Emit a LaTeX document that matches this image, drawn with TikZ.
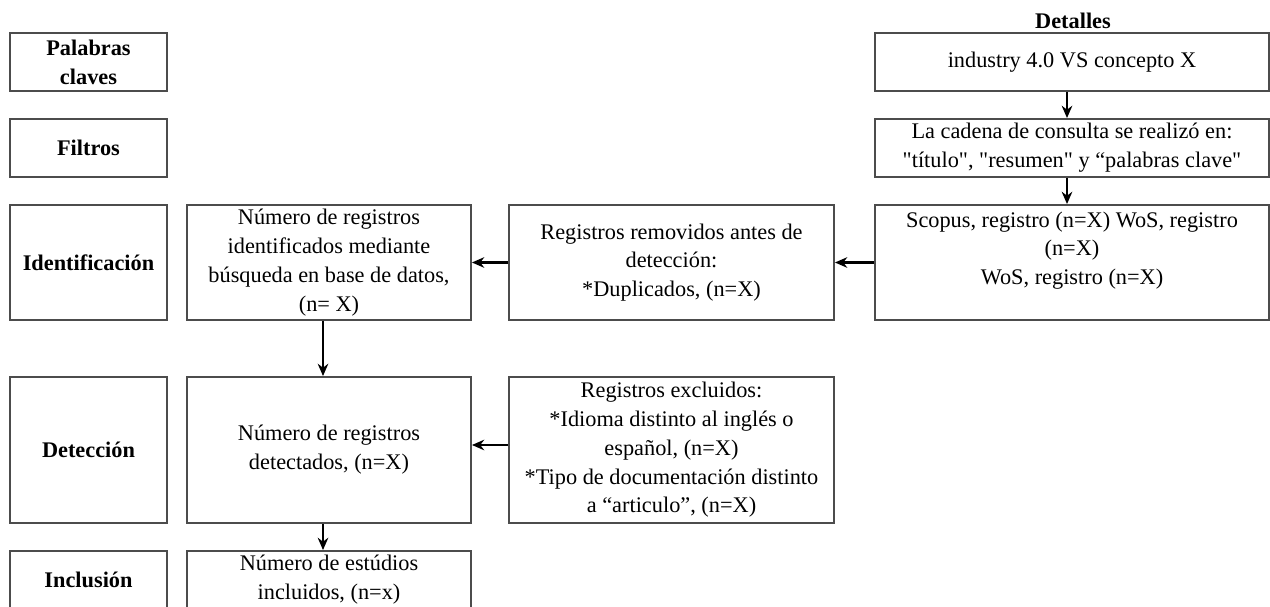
\documentclass[tikz,border=0pt]{standalone}
\usepackage{fontspec}
\setmainfont{Liberation Serif}[Ligatures=TeXOff]
\usetikzlibrary{arrows.meta}
\begin{document}
\begin{tikzpicture}
[x=0.02cm,y=-0.02cm,%
  box/.style={shape=rectangle,draw=black!70,line width=1.1pt,align=center,inner sep=1pt,font=\fontsize{12.7}{16.4}\selectfont},%
  tag/.style={box,font=\fontsize{12.7}{16.4}\selectfont\bfseries,minimum width=3.14cm},%
  arr/.style={-{Stealth[length=7pt,width=6pt]},line width=1.5pt}]
\clip (0,0) rectangle (1270,607);
\node[tag,minimum height=1.16cm] (pal) at (88.5,62) {Palabras\\claves};
\node[tag,minimum height=1.16cm] (fil) at (88.5,148) {Filtros};
\node[tag,minimum height=2.3cm] (ide) at (88.5,262.5) {Identificación};
\node[tag,minimum height=2.92cm] (det) at (88.5,450) {Detección};
\node[tag,minimum height=1.16cm] (inc) at (88.5,580) {Inclusión};
\node[box,minimum width=5.68cm,minimum height=2.3cm] (num1) at (329,262.5)
  {Número de registros\\identificados mediante\\búsqueda en base de datos,\\(n= X)};
\node[box,minimum width=5.68cm,minimum height=2.92cm] (num2) at (329,450)
  {Número de registros\\detectados, (n=X)};
\node[box,minimum width=5.68cm,minimum height=1.16cm] (num3) at (329,580)
  {Número de estúdios\\incluidos, (n=x)};
\node[box,minimum width=6.5cm,minimum height=2.3cm] (rem) at (671.5,262.5)
  {Registros removidos antes de\\detección:\\*Duplicados, (n=X)};
\node[box,minimum width=6.5cm,minimum height=2.92cm] (exc) at (671.5,450)
  {Registros excluidos:\\*Idioma distinto al inglés o\\español, (n=X)\\*Tipo de documentación distinto\\a “articulo”, (n=X)};
\node[font=\fontsize{12.7}{16.4}\selectfont\bfseries] (det0) at (1073,21) {Detalles};
\node[box,minimum width=7.88cm,minimum height=1.16cm] (ind) at (1072,62)
  {industry 4.0 VS concepto X};
\node[box,minimum width=7.88cm,minimum height=1.16cm] (cad) at (1072,148)
  {La cadena de consulta se realizó en:\\"título", "resumen" y “palabras clave"};
\node[box,minimum width=7.88cm,minimum height=2.3cm] (sco) at (1072,262.5)
  {Scopus, registro (n=X) WoS, registro\\(n=X)\\WoS, registro (n=X)\\\mbox{}};
\draw[arr] ([xshift=-0.1cm]ind.south) -- ([xshift=-0.1cm]cad.north);
\draw[arr] ([xshift=-0.1cm]cad.south) -- ([xshift=-0.1cm]sco.north);
\draw[arr] (sco) -- (rem);
\draw[arr] (rem) -- (num1);
\draw[arr] ([xshift=-0.12cm]num1.south) -- ([xshift=-0.12cm]num2.north);
\draw[arr] ([xshift=-0.12cm]num2.south) -- ([xshift=-0.12cm]num3.north);
\draw[arr] ([yshift=0.1cm]exc.west) -- ([yshift=0.1cm]num2.east);
\end{tikzpicture}
\end{document}
